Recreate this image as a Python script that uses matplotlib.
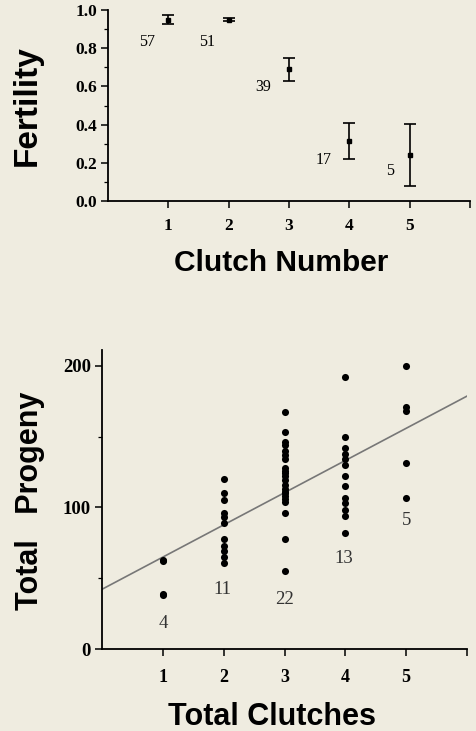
import matplotlib.pyplot as plt
import numpy as np

# top panel: fertility by clutch number
clutch = [1, 2, 3, 4, 5]
fertility = [0.95, 0.95, 0.69, 0.315, 0.24]
fert_err = [0.025, 0.01, 0.06, 0.095, 0.162]
fert_n = ['57', '51', '39', '17', '5']
fert_n_x = [0.65, 1.65, 2.57, 3.57, 4.68]
fert_n_y = [0.83, 0.83, 0.595, 0.215, 0.155]

# bottom panel: total progeny by total clutches
progeny = {
    1: [63, 62, 39, 38],
    2: [120, 110, 105, 96, 93, 89, 78, 73, 69, 65, 61],
    3: [167, 153, 146, 144, 140, 137, 134, 128, 126, 124, 122, 119,
        116, 113, 111, 110, 108, 106, 104, 96, 78, 55],
    4: [192, 150, 142, 138, 134, 130, 122, 115, 107, 103, 98, 94, 82],
    5: [200, 171, 168, 131, 107],
}
prog_n = ['4', '11', '22', '13', '5']
prog_n_x = [1.0, 1.98, 3.0, 3.98, 5.0]
prog_n_y = [18, 42, 35, 64, 91]
fit_intercept = 42.3
fit_slope = 22.7

bg = '#efece0'
serif = 'Liberation Serif'
sans = 'Liberation Sans'


def style_axes(ax):
    ax.set_facecolor(bg)
    for s in ['top', 'right']:
        ax.spines[s].set_visible(False)
    for s in ['left', 'bottom']:
        ax.spines[s].set_linewidth(1.3)
    ax.tick_params(axis='both', which='major', direction='out', length=5,
                   width=1.1, pad=3)
    ax.tick_params(axis='both', which='minor', direction='out', length=3,
                   width=0.9)


fig = plt.figure(figsize=(4.76, 7.31), dpi=100, facecolor=bg)

# ---- top
ax1 = fig.add_axes([0.2269, 0.725, 0.7605, 0.2613])
style_axes(ax1)
ax1.errorbar(clutch, fertility, yerr=fert_err, fmt='s', ms=2.5, color='black',
             ecolor='black', elinewidth=1.2, capsize=4, capthick=1.2)
for t, x, y in zip(fert_n, fert_n_x, fert_n_y):
    ax1.text(x, y, t, fontsize=11.5, family=serif, ha='center', va='center')
ax1.set_xlim(0, 6)
ax1.set_ylim(0, 1.0)
ax1.set_xticks([1, 2, 3, 4, 5, 6])
ax1.set_xticklabels(['1', '2', '3', '4', '5', ''], fontsize=12.5,
                    family=serif, fontweight='bold')
ax1.set_yticks([0, 0.2, 0.4, 0.6, 0.8, 1.0])
ax1.set_yticklabels(['0.0', '0.2', '0.4', '0.6', '0.8', '1.0'], fontsize=12.5,
                    family=serif, fontweight='bold')
ax1.set_yticks(np.arange(0.1, 1.0, 0.2), minor=True)
ax1.tick_params(axis='x', pad=7)
ax1.set_xlabel('Clutch Number', fontsize=21.5, family=sans, fontweight='bold')
ax1.xaxis.set_label_coords(0.478, -0.25)
ax1.set_ylabel('Fertility', fontsize=24, family=sans, fontweight='bold')
ax1.yaxis.set_label_coords(-0.18, 0.5)

# ---- bottom
ax2 = fig.add_axes([0.2143, 0.1118, 0.7668, 0.4094])
style_axes(ax2)
for x, vals in progeny.items():
    ax2.scatter([x] * len(vals), vals, s=26, color='black', zorder=3,
                linewidths=0)
xs = np.array([0, 6])
ax2.plot(xs, fit_intercept + fit_slope * xs, color='#777777', lw=1.2,
         zorder=2)
for t, x, y in zip(prog_n, prog_n_x, prog_n_y):
    ax2.text(x, y, t, fontsize=13.5, family=serif, ha='center', va='center',
             color='#333333')
ax2.set_xlim(0, 6)
ax2.set_ylim(0, 211)
ax2.set_xticks([1, 2, 3, 4, 5, 6])
ax2.set_xticklabels(['1', '2', '3', '4', '5', ''], fontsize=13,
                    family=serif, fontweight='bold')
ax2.set_yticks([0, 100, 200])
ax2.set_yticklabels(['0', '100', '200'], fontsize=13.5, family=serif,
                    fontweight='bold')
ax2.set_yticks([50, 150], minor=True)
ax2.tick_params(axis='x', pad=9)
ax2.set_xlabel('Total Clutches', fontsize=22, family=sans, fontweight='bold')
ax2.xaxis.set_label_coords(0.466, -0.176)
ax2.set_ylabel('Total   Progeny', fontsize=22, family=sans, fontweight='bold')
ax2.yaxis.set_label_coords(-0.155, 0.495)

fig.savefig('out.png', dpi=100, facecolor=bg)
